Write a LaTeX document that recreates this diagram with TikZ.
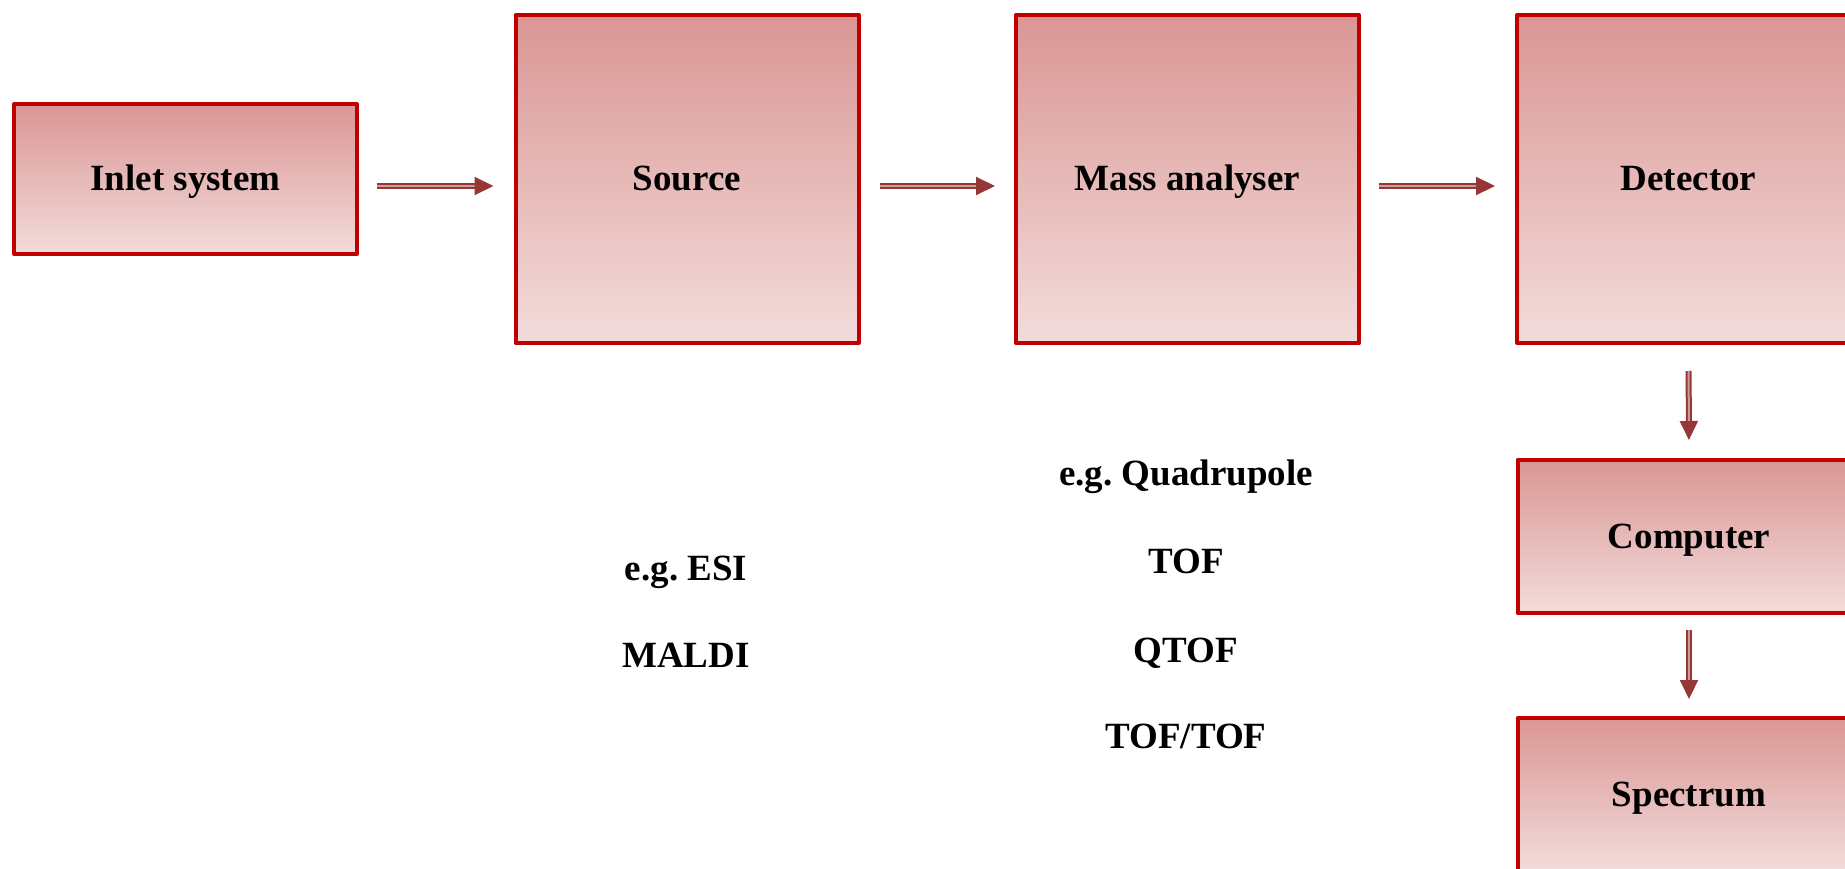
\documentclass[tikz,border=0pt]{standalone}
\usepackage{fontspec}
\setmainfont{Liberation Serif}
\usetikzlibrary{arrows.meta}
\definecolor{boxred}{RGB}{192,0,0}
\definecolor{arrowred}{RGB}{149,55,53}
\definecolor{shadetop}{RGB}{218,150,148}
\definecolor{shadebot}{RGB}{242,220,219}
\frenchspacing
\tikzset{>={Triangle[length=19pt,width=18pt]}}
\tikzset{
  block/.style={draw=boxred, line width=4pt, line join=round,
                top color=shadetop, bottom color=shadebot,
                minimum width=343pt, inner sep=0pt,
                text height=25.5pt, text depth=1.5pt,
                font=\bfseries\fontsize{37}{44}\selectfont},
  note/.style={anchor=base, font=\bfseries\fontsize{37}{44}\selectfont},
  flow/.style={->, draw=arrowred, line width=2pt,
               double=arrowred!50!white, double distance=2pt}
}

\begin{document}
\begin{tikzpicture}[x=1pt,y=-1pt]
  \useasboundingbox (0,0) rectangle (1845,869);
  \clip (0,0) rectangle (1845,869);
  % blocks
  \node[block, minimum height=150pt] (inlet)    at (185.5,179) {Inlet system};
  \node[block, minimum height=328pt] (source)   at (687,179)   {Source};
  \node[block, minimum height=328pt] (analyser) at (1187.5,179) {Mass analyser};
  \node[block, minimum height=328pt] (detector) at (1688.5,179) {Detector};
  \node[block, minimum height=153pt] (computer) at (1689,536.5) {Computer};
  \node[block, minimum height=153pt] (spectrum) at (1689,794.5) {Spectrum};
  % examples
  \node[note] (esi)    at (686,580)  {e.g. ESI};
  \node[note] (maldi)  at (686,667)  {MALDI};
  \node[note] (quad)   at (1186,485) {e.g. Quadrupole};
  \node[note] (tof)    at (1186,573) {TOF};
  \node[note] (qtof)   at (1186,662) {QTOF};
  \node[note] (toftof) at (1186,748) {TOF/TOF};
  % arrows
  \draw[flow, shorten <=18pt, shorten >=20pt]
       ([yshift=-7pt]inlet.east) -- ([yshift=-7pt]source.west);
  \draw[flow, shorten <=19pt, shorten >=19pt]
       ([yshift=-7pt]source.east) -- ([yshift=-7pt]analyser.west);
  \draw[flow, shorten <=18pt, shorten >=20pt]
       ([yshift=-7pt]analyser.east) -- ([yshift=-7pt]detector.west);
  \draw[flow, shorten <=26pt, shorten >=18pt] (detector.south) -- (computer.north);
  \draw[flow, shorten <=15pt, shorten >=17pt] (computer.south) -- (spectrum.north);
\end{tikzpicture}
\end{document}
